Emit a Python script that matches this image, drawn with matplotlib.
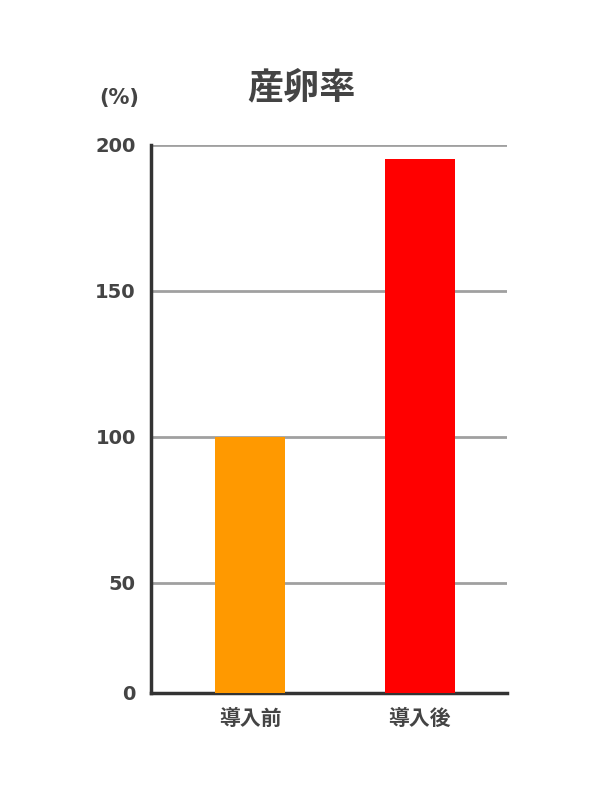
import matplotlib
matplotlib.use('Agg')
import matplotlib.pyplot as plt

plt.rcParams['font.family'] = ['DejaVu Sans', 'Noto Sans CJK JP']

categories = ['導入前', '導入後']
values = [100, 195]
colors = ['#ff9900', '#ff0000']
# the axis in the reference is cut: bottom labelled "0" sits below 50 at ~12.3
y_bottom = 12.3
yticks = [y_bottom, 50, 100, 150, 200]
ytick_labels = ['0', '50', '100', '150', '200']

fig = plt.figure(figsize=(6, 8), dpi=100)
ax = fig.add_axes([0.252, 0.134, 0.593, 0.685])

ax.bar(range(len(categories)), values, width=0.41, color=colors, zorder=3)
ax.set_xlim(-0.582, 1.512)
ax.set_ylim(y_bottom, 200)
ax.set_yticks(yticks)
ax.set_yticklabels(ytick_labels, fontweight='bold', fontsize=14, color='#444444')
ax.yaxis.grid(True, color='#a0a0a0', linewidth=2, zorder=0)
ax.set_axisbelow(True)

ax.set_xticks(range(len(categories)))
ax.set_xticklabels(categories, family=['Noto Sans CJK JP'], fontweight='bold',
                   fontsize=15, color='#444444')
ax.tick_params(axis='both', length=0)
ax.tick_params(axis='y', pad=11)
ax.tick_params(axis='x', pad=11)

for side in ['top', 'right']:
    ax.spines[side].set_visible(False)
for side in ['left', 'bottom']:
    ax.spines[side].set_color('#333333')
    ax.spines[side].set_linewidth(2.5)

fig.text(0.502, 0.89, '産卵率', ha='center', va='center', fontsize=26,
         fontweight='bold', family=['Noto Sans CJK JP'], color='#444444')
fig.text(0.198, 0.877, '(%)', ha='center', va='center', fontsize=15,
         fontweight='bold', color='#444444')

fig.savefig('out.png', dpi=100)
